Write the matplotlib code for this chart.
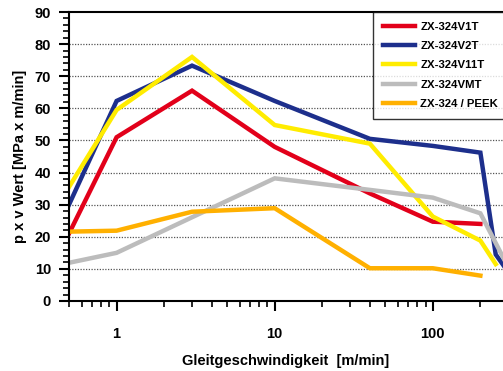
"""
p x v Wert over Gleitgeschwindigkeit for several ZX-324 materials.
"""

import matplotlib
matplotlib.use("Agg")
import matplotlib.pyplot as plt
from matplotlib.ticker import MultipleLocator, FixedLocator, NullFormatter, LogLocator

plt.rcParams["font.family"] = ["Liberation Sans", "DejaVu Sans"]
plt.rcParams["font.weight"] = "bold"

# speeds [m/min] and p x v values
v1t_x = [0.5, 1, 3, 10, 40, 100, 200]
v1t_y = [21, 51, 65.5, 48, 33.5, 24.7, 24]

v2t_x = [0.5, 1, 3, 10, 40, 100, 200, 250, 300]
v2t_y = [30, 62.3, 73.3, 62.3, 50.5, 48.3, 46.2, 14.5, 9]

v11t_x = [0.5, 1, 3, 10, 40, 100, 200, 250]
v11t_y = [35.5, 59.5, 76, 54.8, 49, 26.3, 18.8, 11.5]

vmt_x = [0.5, 1, 10, 40, 100, 200, 300]
vmt_y = [11.9, 15, 38.2, 34.6, 32.2, 27.3, 10.5]

peek_x = [0.5, 1, 3, 10, 40, 100, 200]
peek_y = [21.6, 21.9, 27.8, 28.9, 10.2, 10.2, 7.9]

series = [
    ("ZX-324V1T", v1t_x, v1t_y, "#e2001a"),
    ("ZX-324V2T", v2t_x, v2t_y, "#1d2f8c"),
    ("ZX-324V11T", v11t_x, v11t_y, "#ffec00"),
    ("ZX-324VMT", vmt_x, vmt_y, "#bcbcbc"),
    ("ZX-324 / PEEK", peek_x, peek_y, "#ffb000"),
]

fig = plt.figure(figsize=(5.03, 3.71), dpi=100)
ax = fig.add_axes([69 / 503, 1 - 301 / 371, 1 - 69 / 503, (301 - 12) / 371])

for name, xs, ys, col in series:
    ax.plot(xs, ys, color=col, lw=3.2, label=name, solid_joinstyle="miter")

ax.set_xscale("log")
ax.set_xlim(0.5, 278)
ax.set_ylim(0, 90)

ax.yaxis.set_major_locator(MultipleLocator(10))
ax.yaxis.set_minor_locator(MultipleLocator(2))
ax.xaxis.set_major_locator(FixedLocator([1, 10, 100]))
ax.xaxis.set_major_formatter(plt.FixedFormatter(["1", "10", "100"]))
ax.xaxis.set_minor_locator(LogLocator(base=10, subs=range(2, 10)))
ax.xaxis.set_minor_formatter(NullFormatter())

for y in range(10, 90, 10):
    ax.axhline(y, color="#555555", lw=0.9, ls=(0, (1, 1.2)), zorder=0)

for s in ax.spines.values():
    s.set_linewidth(1.5)
ax.spines["right"].set_visible(False)

ax.tick_params(axis="both", which="major", direction="out", length=7, width=1.5,
               labelsize=10.5)
ax.tick_params(axis="both", which="minor", direction="out", length=4, width=1.2)
ax.tick_params(axis="y", which="major", pad=6)
ax.tick_params(axis="x", which="major", pad=12)

ax.set_ylabel("p x v Wert [MPa x m/min]", fontsize=10.5, fontweight="bold", labelpad=5)
ax.set_xlabel("Gleitgeschwindigkeit  [m/min]", fontsize=10.5, fontweight="bold", labelpad=9)

leg = ax.legend(loc="upper left", bbox_to_anchor=((373 - 69) / 434, 1.0),
                prop={"size": 8.2, "weight": "bold"}, frameon=True, fancybox=False,
                borderaxespad=0, handlelength=2.8, handletextpad=0.5,
                labelspacing=0.82, borderpad=0.85)
leg.get_frame().set_edgecolor("black")
leg.get_frame().set_linewidth(1.0)

fig.savefig("out.png", dpi=100)
